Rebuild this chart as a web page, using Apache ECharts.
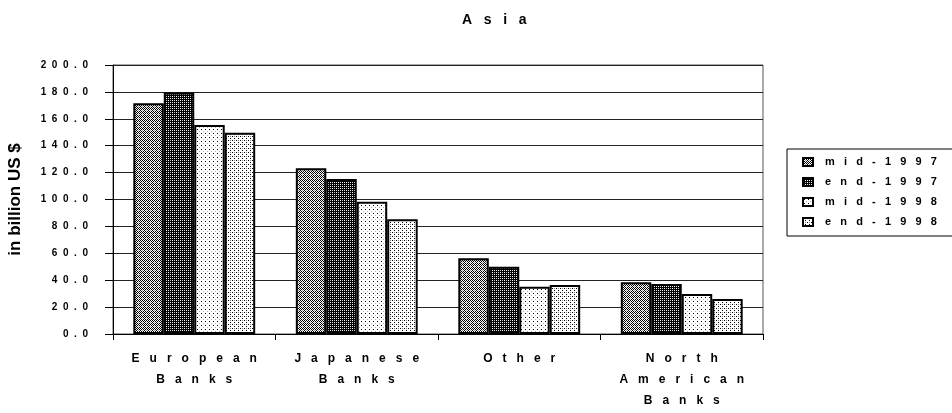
<!DOCTYPE html>
<html>
<head>
<meta charset="utf-8">
<style>
  html, body { margin: 0; padding: 0; background: #fff; }
  #chart { width: 952px; height: 413px; }
</style>
<script src="https://cdn.jsdelivr.net/npm/echarts@6/dist/echarts.min.js"></script>
</head>
<body>
<div id="chart"></div>
<script>
// Outstanding claims on Asia by bank nationality, in billion US $
const categories = ['European\nBanks', 'Japanese\nBanks', 'Other', 'North\nAmerican\nBanks'];
const seriesNames = ['mid-1997', 'end-1997', 'mid-1998', 'end-1998'];
const mid1997 = [171.5, 123.2, 56.3, 38.4];
const end1997 = [179.5, 115.2, 50.0, 37.2];
const mid1998 = [155.4, 98.4, 35.2, 29.7];
const end1998 = [149.7, 85.3, 36.4, 26.0];
const yTicks = { min: 0, max: 200, step: 20 };

const FONT = '"Liberation Sans", Arial, sans-serif';

// Wide letter spacing, as in the old spreadsheet print style
function spaced(text, gap) {
  const sep = ' '.repeat(gap || 3);
  return text.split('\n').map(l => l.split('').join(sep)).join('\n');
}

// Halftone fill tiles for the four series
function tile(size, paint) {
  const c = document.createElement('canvas');
  c.width = size; c.height = size;
  const ctx = c.getContext('2d');
  ctx.fillStyle = '#fff';
  ctx.fillRect(0, 0, size, size);
  paint(ctx, size);
  return { image: c, repeat: 'repeat' };
}
function px(ctx, x, y, col) { ctx.fillStyle = col; ctx.fillRect(x, y, 1, 1); }

const fills = [
  // medium grey checker
  tile(4, (ctx, n) => {
    for (let y = 0; y < n; y++) for (let x = 0; x < n; x++) {
      if ((x + y) % 2 === 0) px(ctx, x, y, (x === 2 && y === 2) ? '#999' : '#000');
    }
  }),
  // dark checker
  tile(4, (ctx, n) => {
    ctx.fillStyle = '#000'; ctx.fillRect(0, 0, n, n);
    px(ctx, 0, 0, '#fff'); px(ctx, 2, 2, '#fff');
    px(ctx, 2, 0, '#bbb'); px(ctx, 0, 2, '#ddd');
  }),
  // sparse dots
  tile(4, (ctx) => {
    px(ctx, 1, 1, '#000'); px(ctx, 3, 3, '#aaa');
  }),
  // light dots
  tile(4, (ctx) => {
    px(ctx, 0, 0, '#000'); px(ctx, 2, 2, '#000');
    px(ctx, 2, 0, '#888');
  })
];

const values = [mid1997, end1997, mid1998, end1998];

const chart = echarts.init(document.getElementById('chart'), null, { renderer: 'canvas' });

chart.setOption({
  backgroundColor: '#fff',
  animation: false,
  textStyle: { fontFamily: FONT },
  title: {
    text: spaced('Asia'),
    left: 457,
    top: 8,
    textStyle: { fontFamily: FONT, fontSize: 14, fontWeight: 'bold', color: '#000' }
  },
  legend: {
    orient: 'vertical',
    left: 787,
    top: 149,
    padding: [6, 40, 7, 15],
    itemGap: 6,
    itemWidth: 10,
    itemHeight: 8,
    borderColor: '#000',
    borderWidth: 1,
    icon: 'rect',
    data: seriesNames,
    formatter: name => spaced(name),
    textStyle: {
      fontFamily: FONT, fontSize: 11, fontWeight: 'bold', color: '#000',
      lineHeight: 14, padding: [0, 0, 0, 7]
    }
  },
  grid: {
    left: 113, right: 189, top: 65, bottom: 79,
    containLabel: false,
    outerBoundsMode: 'none',
    show: true, borderColor: '#555', borderWidth: 1
  },
  xAxis: {
    type: 'category',
    data: categories,
    axisLine: { lineStyle: { color: '#000', width: 1 } },
    axisTick: { show: true, length: 6, alignWithLabel: false, lineStyle: { color: '#000' } },
    axisLabel: {
      interval: 0,
      margin: 14,
      fontFamily: FONT, fontSize: 12, fontWeight: 'bold', color: '#000',
      lineHeight: 21,
      formatter: v => spaced(v)
    }
  },
  yAxis: {
    type: 'value',
    min: yTicks.min,
    max: yTicks.max,
    interval: yTicks.step,
    name: 'in billion US $',
    nameLocation: 'middle',
    nameRotate: 90,
    nameGap: 89,
    nameTextStyle: { fontFamily: FONT, fontSize: 17, fontWeight: 'bold', color: '#000' },
    axisLine: { show: true, lineStyle: { color: '#000', width: 1 } },
    axisTick: { show: true, length: 8, lineStyle: { color: '#000' } },
    axisLabel: {
      margin: 25,
      fontFamily: FONT, fontSize: 10, fontWeight: 'bold', color: '#000',
      formatter: v => spaced(v.toFixed(1), 2)
    },
    splitLine: { show: true, lineStyle: { color: '#222', width: 1 } }
  },
  series: seriesNames.map((name, i) => ({
    name,
    type: 'bar',
    data: values[i],
    barGap: '0%',
    barCategoryGap: '25%',
    itemStyle: { color: fills[i], borderColor: '#000', borderWidth: 2 },
    emphasis: { disabled: true }
  }))
});
</script>
</body>
</html>
